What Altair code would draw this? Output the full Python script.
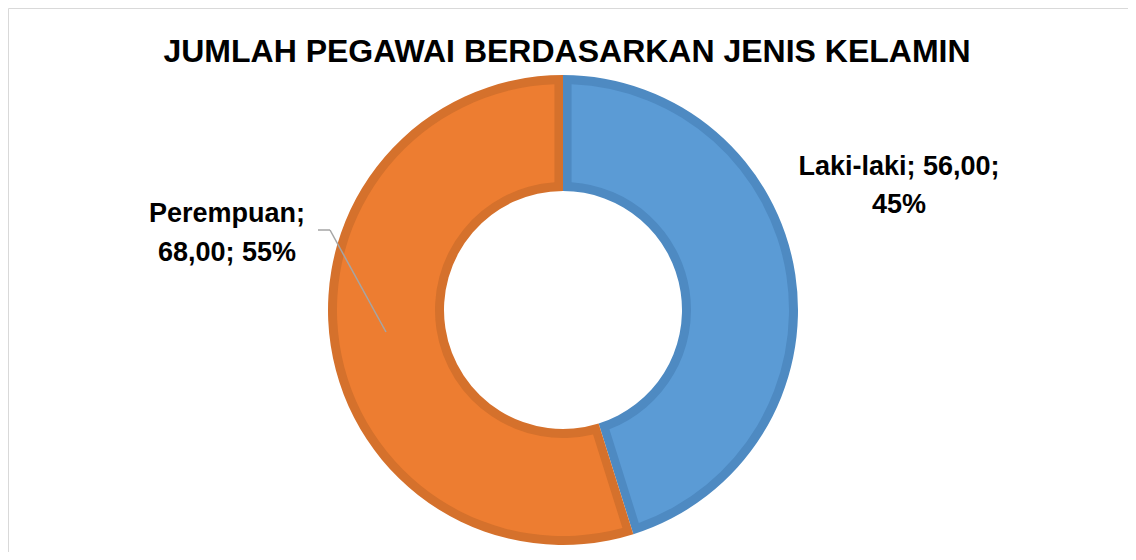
import altair as alt
import pandas as pd

categories = ["Laki-laki", "Perempuan"]
values = [56, 68]
percent_labels = ["45%", "55%"]
fill_colors = ["#5B9BD5", "#ED7D31"]
edge_colors = ["#4E8AC2", "#D5712C"]
title_text = "JUMLAH PEGAWAI BERDASARKAN JENIS KELAMIN"


def fmt(v):
    return f"{v:.2f}".replace(".", ",")


labels = [
    f"{categories[0]}; {fmt(values[0])};\n{percent_labels[0]}",
    f"{categories[1]};\n{fmt(values[1])}; {percent_labels[1]}",
]

df = pd.DataFrame({
    "kategori": categories,
    "jumlah": values,
    "urut": [0, 1],
    "label": labels,
})

CX, CY = 555, 302
FONT = "Liberation Sans"

base = alt.Chart(df)

edge = base.mark_arc(outerRadius=235, innerRadius=119).encode(
    theta=alt.Theta("jumlah:Q", stack=True),
    order=alt.Order("urut:O"),
    color=alt.Color("kategori:N", scale=alt.Scale(domain=categories, range=edge_colors), legend=None),
    x=alt.value(CX), y=alt.value(CY),
)

fill = base.mark_arc(outerRadius=226, innerRadius=128, padAngle=0.066).encode(
    theta=alt.Theta("jumlah:Q", stack=True),
    order=alt.Order("urut:O"),
    color=alt.Color("kategori:N", scale=alt.Scale(domain=categories, range=fill_colors), legend=None),
    x=alt.value(CX), y=alt.value(CY),
)

label_laki = base.transform_filter(alt.datum.kategori == categories[0]).mark_text(
    font=FONT, fontSize=27, fontWeight="bold", color="#000000", align="center",
    baseline="alphabetic", lineBreak="\n", lineHeight=38,
).encode(text="label:N", x=alt.value(891), y=alt.value(167))

label_per = base.transform_filter(alt.datum.kategori == categories[1]).mark_text(
    font=FONT, fontSize=27, fontWeight="bold", color="#000000", align="center",
    baseline="alphabetic", lineBreak="\n", lineHeight=39,
).encode(text="label:N", x=alt.value(219), y=alt.value(214))

one = alt.Data(values=[{"t": title_text}])

title = alt.Chart(one).mark_text(
    font=FONT, fontSize=32, fontWeight="bold", color="#000000", align="center",
    baseline="alphabetic",
).encode(text="t:N", x=alt.value(559), y=alt.value(54))

leader1 = alt.Chart(one).mark_rule(color="#A5A5A5", strokeWidth=1.5).encode(
    x=alt.value(310), x2=alt.value(322), y=alt.value(222), y2=alt.value(222)
)
leader2 = alt.Chart(one).mark_rule(color="#A5A5A5", strokeWidth=1.5).encode(
    x=alt.value(322), x2=alt.value(378), y=alt.value(222), y2=alt.value(324)
)

chart = alt.layer(edge, fill, leader1, leader2, label_laki, label_per, title).resolve_scale(
    color="independent"
).properties(
    width=1120, height=544, padding=0,
    autosize=alt.AutoSizeParams(type="fit", contains="padding"),
).configure_view(stroke="#D9D9D9")

chart.save("out.html", embed_options={"renderer": "svg", "actions": False})
